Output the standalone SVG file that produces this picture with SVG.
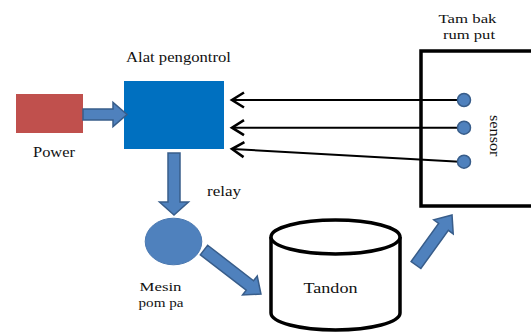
<svg xmlns="http://www.w3.org/2000/svg" width="531" height="332" viewBox="0 0 531 332">
<style>
text{font-family:"Liberation Serif","Times New Roman",serif;font-size:15.5px;fill:#111;}
.sm{font-size:13.5px;}
.blk{fill:#4F81BD;stroke:#385D8A;stroke-width:1.5;stroke-linejoin:miter;}
.thin{stroke:#000;stroke-width:2;fill:none;}
.out{fill:#fff;stroke:#000;stroke-width:3.5;}
.dot{fill:#4F81BD;stroke:#385D8A;stroke-width:1.5;}
</style>
<defs>
<marker id="chev" markerUnits="userSpaceOnUse" markerWidth="20" markerHeight="20" viewBox="-14 -10 20 20" refX="0" refY="0" orient="auto">
<path d="M-12,-7.5 L0,0 L-12,7.5" fill="none" stroke="#000" stroke-width="2.6"/>
</marker>
</defs>
<g id="power">
<rect x="16" y="94" width="67" height="39" fill="#C0504D"/>
<text x="33" y="157" textLength="42" lengthAdjust="spacingAndGlyphs">Power</text>
</g>
<g id="controller">
<rect x="124" y="81" width="100" height="68" fill="#0070C0"/>
<text x="126" y="62" textLength="105" lengthAdjust="spacingAndGlyphs">Alat pengontrol</text>
</g>
<g id="pump">
<ellipse cx="173.5" cy="241.5" rx="28.3" ry="23.3" fill="#4F81BD" stroke="#4A78B0" stroke-width="1"/>
<text class="sm" x="139.5" y="291" textLength="42" lengthAdjust="spacingAndGlyphs">Mesin</text>
<text class="sm" x="138.5" y="306.5" textLength="45" lengthAdjust="spacingAndGlyphs">pom pa</text>
</g>
<g id="tandon">
<path class="out" d="M271,237 L271,313 A64.5,17 0 0 0 400,313 L400,237"/>
<ellipse class="out" cx="335.5" cy="237" rx="64.5" ry="17"/>
<text x="303.5" y="293" textLength="54" lengthAdjust="spacingAndGlyphs">Tandon</text>
</g>
<g id="tambak">
<rect class="out" x="421" y="51" width="125" height="155"/>
<text class="sm" x="438.5" y="22.5" textLength="58" lengthAdjust="spacingAndGlyphs">Tam bak</text>
<text class="sm" x="443" y="39" textLength="52" lengthAdjust="spacingAndGlyphs">rum put</text>
<text transform="translate(490,115) rotate(90)" x="0" y="0" textLength="41.5" lengthAdjust="spacingAndGlyphs">sensor</text>
</g>
<g id="connectors">
<path class="blk" transform="translate(83,114.5)" d="M0,-5.5 L30,-5.5 L30,-12 L44,0 L30,12 L30,5.5 L0,5.5 Z"/>
<path class="blk" transform="translate(174,153) rotate(90)" d="M0,-6 L49,-6 L49,-14.5 L62,0 L49,14.5 L49,6 L0,6 Z"/>
<text x="207" y="196" textLength="34" lengthAdjust="spacingAndGlyphs">relay</text>
<path class="blk" transform="translate(204,250) rotate(37.7)" d="M0,-6 L58,-6 L58,-12 L72,0 L58,12 L58,6 L0,6 Z"/>
<path class="blk" transform="translate(416,265) rotate(-54.2)" d="M0,-6 L47,-6 L47,-12 L61.6,0 L47,12 L47,6 L0,6 Z"/>
<line class="thin" x1="464" y1="100" x2="232" y2="100" marker-end="url(#chev)"/>
<line class="thin" x1="464" y1="127.7" x2="232" y2="127.7" marker-end="url(#chev)"/>
<line class="thin" x1="464" y1="162" x2="232" y2="149" marker-end="url(#chev)"/>
</g>
<g id="sensors">
<circle class="dot" cx="464" cy="100" r="6.5"/>
<circle class="dot" cx="464" cy="127.7" r="6.5"/>
<circle class="dot" cx="464" cy="161.7" r="6.5"/>
</g>
</svg>
